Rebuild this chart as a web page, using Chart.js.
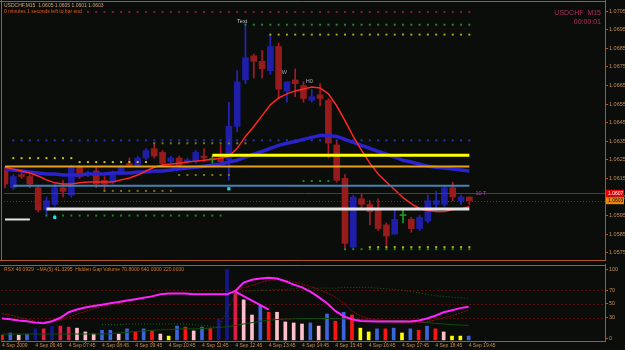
<!DOCTYPE html>
<html lang="en">
<head>
<meta charset="UTF-8">
<title>USDCHF M15</title>
<style>
  body { margin: 0; background: #0a0d09; }
  .wrap { position: relative; width: 625px; height: 350px; background: #0a0d09; overflow: hidden; }
  canvas { position: absolute; left: 0; }
  #main { top: 0; }
  #sub { top: 264px; }
</style>
</head>
<body>
<div class="wrap">
  <canvas id="main" width="625" height="264"></canvas>
  <canvas id="sub" width="625" height="86"></canvas>
</div>
<script src="https://cdn.jsdelivr.net/npm/chart.js"></script>
<script>
// USDCHF M15, bar 0 = 4 Sep 05:45
const opens = [1.0619,1.0610,1.0617,1.0616,1.0610,1.0598,1.0601,1.0610,1.0606,1.0621,
  1.0617,1.0619,1.0614,1.0613,1.0618,1.0623,1.0622,1.0626,1.0631,1.0629,
  1.0624,1.0626,1.0624,1.0624,1.0627,1.0625,1.0626,1.0625,1.0643,1.0668,
  1.0681,1.0678,1.0673,1.0686,1.0662,1.0668,1.0665,1.0657,1.0660,1.0657,
  1.0633,1.0615,1.0578,1.0604,1.0601,1.0598,1.0590,1.0585,1.0595,1.0593,
  1.0588,1.0592,1.0601,1.0601,1.0610,1.0603,1.0605];
const highs = [1.0621,1.0617,1.0618,1.0617,1.0611,1.0605,1.0612,1.0614,1.0622,1.0622,
  1.0619,1.0621,1.0616,1.0619,1.0622,1.0626,1.0627,1.0631,1.0634,1.0630,
  1.0627,1.0627,1.0626,1.0630,1.0631,1.0627,1.0633,1.0656,1.0673,1.0699,
  1.0682,1.0684,1.0692,1.0688,1.0667,1.0674,1.0667,1.0663,1.0666,1.0658,
  1.0635,1.0617,1.0606,1.0607,1.0603,1.0604,1.0591,1.0598,1.0598,1.0594,
  1.0595,1.0606,1.0608,1.0611,1.0613,1.0606,1.0605];
const lows = [1.0610,1.0609,1.0615,1.0610,1.0597,1.0595,1.0600,1.0605,1.0605,1.0615,
  1.0616,1.0610,1.0608,1.0612,1.0617,1.0621,1.0621,1.0625,1.0626,1.0622,
  1.0623,1.0621,1.0623,1.0623,1.0624,1.0622,1.0623,1.0614,1.0640,1.0666,
  1.0669,1.0669,1.0671,1.0658,1.0656,1.0659,1.0656,1.0656,1.0654,1.0626,
  1.0613,1.0577,1.0577,1.0599,1.0590,1.0587,1.0578,1.0585,1.0591,1.0586,
  1.0587,1.0591,1.0597,1.0600,1.0603,1.0601,1.0601];
const closes = [1.0612,1.0616,1.0616,1.0612,1.0598,1.0603,1.0610,1.0608,1.0621,1.0616,
  1.0618,1.0612,1.0612,1.0617,1.0621,1.0622,1.0626,1.0630,1.0627,1.0623,
  1.0626,1.0622,1.0625,1.0629,1.0626,1.0625,1.0624,1.0643,1.0667,1.0680,
  1.0678,1.0674,1.0686,1.0663,1.0667,1.0666,1.0658,1.0659,1.0658,1.0634,
  1.0614,1.0580,1.0605,1.0601,1.0597,1.0588,1.0584,1.0593,1.0595,1.0588,
  1.0594,1.0603,1.0603,1.0610,1.0605,1.0605,1.0603];

const redMA = [1.06210,1.06200,1.06190,1.06179,1.06163,1.06142,1.06126,1.06120,1.06120,1.06126,
  1.06131,1.06131,1.06131,1.06131,1.06142,1.06152,1.06168,1.06190,1.06210,1.06222,
  1.06227,1.06232,1.06238,1.06243,1.06248,1.06253,1.06259,1.06269,1.06312,1.06376,
  1.06429,1.06488,1.06546,1.06583,1.06605,1.06621,1.06631,1.06642,1.06637,1.06605,
  1.06541,1.06461,1.06376,1.06301,1.06232,1.06174,1.06131,1.06089,1.06046,1.06014,
  1.05987,1.05977,1.05972,1.05972,1.05982,1.05987,1.05998];
const blueMA = [1.06200,1.06195,1.06190,1.06184,1.06179,1.06174,1.06174,1.06168,1.06168,1.06168,
  1.06174,1.06174,1.06174,1.06179,1.06179,1.06179,1.06184,1.06184,1.06190,1.06190,
  1.06195,1.06200,1.06206,1.06210,1.06216,1.06222,1.06227,1.06238,1.06248,1.06264,
  1.06280,1.06296,1.06312,1.06328,1.06339,1.06349,1.06360,1.06371,1.06381,1.06381,
  1.06376,1.06360,1.06344,1.06328,1.06312,1.06296,1.06280,1.06264,1.06248,1.06238,
  1.06227,1.06216,1.06210,1.06206,1.06200,1.06195,1.06190];

// horizontal objects: price, first bar, last bar
const levelPrice = [1.06275, 1.06214, 1.06110, 1.05985, 1.05929];
const levelFrom = [25, 0, 1, 5, 0];
const levelTo = [56, 56, 56, 56, 3];

// dotted indicator rows
const dotPrice = [1.07046, 1.06977, 1.06924, 1.06355, 1.06339, 1.06259, 1.06238, 1.06168, 1.06083, 1.06136, 1.05950, 1.05780, 1.05769];
const dotFrom = [10, 29, 32, 1, 18, 1, 9, 21, 12, 36, 5, 44, 41];
const dotTo = [56, 56, 56, 56, 29, 8, 17, 27, 20, 39, 26, 56, 56];
const signalBars = [6, 27];
const signalPrice = [1.05940, 1.06094];

const noteText = ['Text', 'W', 'H0', '10 T'];
const noteBar = [28.6, 33.7, 36.7, 57.4];
const notePrice = [1.06994, 1.06722, 1.06674, 1.06067];

const priceLines = [1.0607, 1.0603];
const priceTicks = [1.0575, 1.0585, 1.0595, 1.0605, 1.0615, 1.0625, 1.0635, 1.0645, 1.0655, 1.0665, 1.0675, 1.0685, 1.0695, 1.0705];

// sub window
const rsx = [29,28,26,25,23,22,25,30,38,42, 45,47,49,51,53,55,57,59,61,64,
  65,65,65,64,64,64,64,64,69,81, 85,87,88,87,83,78,74,68,60,51,
  40,32,28,25.5,25,24.5,24.5,24.5,24.5,24.5, 26,29,33,38,41,44,46.09];
const rsxMA = [36,34,31,28,25,24,25,26,31,35.5, 39,43,46,48.5,51,54,56,59,62,64,
  65,65,65,65,65,65,65,65,68,74, 77,81,84,85.5,84.5,82,79,75.5,71,66,
  60,51,40,33,29,27,25,24,23.5,23, 23,24,27,30,33,37,41.33];
const gapUpper = [null,null,null,null,null,null,null,null,null,null,null,null,
  20,20,20,21,21,21,21,21,21,21,21,20,19,18,
  16,40,65,68,69,70,70,71,71,72, 72,73,73,73,73,74,74,74,74,73,
  72,71,70,68,66,64,62,61,60,59,58];
const gapLower = [6.5,6.5,6.5,6.5,6.5,6.5,6.5,6.5,6.5,6.5,6.5,6.5,6.5,
  7,8,9,10,11,12,12.5,13,13.5,14, 14,14.5,15,16,17,19,21,23,25,26.5,
  27.5,28,28.5,29,29,29,29,29,28.5,28, 27.5,27,26.5,26,26,26,25,24,23,22, 21,20,19.5,19];
const volume = [5,8,5,6.5,14,14,18,18,16.5,15, 9.5,6.5,12,12,6.5,14,9.5,14,11,6.5,
  3.5,18,16.5,11,16.5,15,28,100,66,56, 34,48.5,38,38,24,22.5,21,22.5,18,35.5,
  25,38,34,15,9.5,14,14,15,8,14, 12,18,14,9.5,3.5,3.5,3.5];
const volKind = ['R','B','P','B','N','C','N','C','C','P', 'P','P','B','B','P','B','R','B','R','P',
  'Y','B','R','P','B','R','N','N','C','P', 'P','B','R','P','P','P','P','B','P','B',
  'R','B','R','Y','Y','B','R','B','Y','B', 'R','B','R','P','Y','Y','B'];
const divBars = [28, 32];
const divValues = [68, 42];
const rsxLevels = [30, 50, 70];
const rsxTicks = [0, 30, 50, 70, 100];
const timeTicks = [0, 4, 8, 12, 16, 20, 24, 28, 32, 36, 40, 44, 48, 52, 56];
const timeLabels = ['4 Sep 2009', '4 Sep 06:45', '4 Sep 07:45', '4 Sep 08:45', '4 Sep 09:45', '4 Sep 10:45',
  '4 Sep 11:45', '4 Sep 12:45', '4 Sep 13:45', '4 Sep 14:45', '4 Sep 15:45', '4 Sep 16:45',
  '4 Sep 17:45', '4 Sep 18:45', '4 Sep 19:45'];

// styles
const FONT = '"Liberation Sans", Arial, sans-serif';
Chart.defaults.font.family = FONT;
const FRAME = '#b0561a';
const AXIS_TXT = '#c98c55';
const X_MIN = -0.12, X_MAX = 72.36;
const levelColors = ['#ffff00', '#e8a01c', '#4682b4', '#e4e4e4', '#e4e4e4'];
const levelWidths = [3, 2, 2, 3, 2];
const dotColors = ['#8e1846', '#238a23', '#a8a81c', '#2436b8', '#7a7a1a', '#c8c81e', '#c8c81e',
  '#7a7a1a', '#7a7a1a', '#1f8a1f', '#1c8a1c', '#b8b81e', '#1c8a1c'];
const noteColors = ['#c8c8c8', '#a8a8a8', '#b0b0b0', '#b040b0'];
const boxColors = ['#e60000', '#e8860e'];
const boxText = ['#ffffff', '#1a0a00'];
const volColors = { R: '#ff1414', B: '#3c64dc', P: '#ffc0cb', N: '#16168c', C: '#dc1e46', Y: '#ffff00' };

const idx = opens.map((_, i) => i);
const series = arr => idx.map(i => ({ x: i, y: arr[i] }));
const bodyColor = i => closes[i] > opens[i] ? '#1e1ea8' : closes[i] < opens[i] ? '#961b1b' : '#1c9c1c';
const wickColor = i => closes[i] > opens[i] ? '#2626b8' : closes[i] < opens[i] ? '#a8182c' : '#1c9c1c';

const fitY = s => { s.width = 20; s.paddingTop = 0; s.paddingBottom = 0; };

// ---------- main window ----------
const mainSets = [
  { type: 'bar', data: idx.map(i => ({ x: i, y: [lows[i], highs[i]] })), backgroundColor: idx.map(wickColor),
    barThickness: 1, grouped: false, order: 9 },
  { type: 'bar', data: idx.map(i => ({ x: i, y: [opens[i], closes[i]] })), backgroundColor: idx.map(bodyColor),
    barThickness: 6, minBarLength: 1, grouped: false, order: 8 },
  { type: 'line', data: series(blueMA), borderColor: '#2a22cc', borderWidth: 3.5, pointRadius: 0, order: 6 },
  { type: 'line', data: series(redMA), borderColor: '#ff2626', borderWidth: 1.5, pointRadius: 0, order: 5 }
];
dotPrice.forEach((p, k) => {
  const pts = [];
  for (let i = dotFrom[k]; i <= dotTo[k]; i++) pts.push({ x: i, y: p });
  mainSets.push({ type: 'scatter', data: pts, pointStyle: 'rect', pointRadius: 1.4,
    backgroundColor: dotColors[k], borderWidth: 0, order: 7 });
});
levelPrice.forEach((p, k) => {
  mainSets.push({ type: 'line', data: [{ x: levelFrom[k], y: p }, { x: levelTo[k], y: p }],
    borderColor: levelColors[k], borderWidth: levelWidths[k], pointRadius: 0, order: 3 });
});
mainSets.push({ type: 'scatter', data: signalBars.map((b, k) => ({ x: b, y: signalPrice[k] })),
  pointStyle: 'rect', pointRadius: 2.2, backgroundColor: '#22e6e6', borderWidth: 0, order: 2 });

const mainDecor = {
  id: 'mainDecor',
  afterDatasetsDraw(chart) {
    const { ctx, chartArea: a, scales: { x, y } } = chart;
    ctx.save();
    ctx.lineWidth = 1;
    let py = Math.round(y.getPixelForValue(priceLines[0])) + 0.5;
    ctx.strokeStyle = '#b31212';
    ctx.beginPath(); ctx.moveTo(a.left, py); ctx.lineTo(a.right, py); ctx.stroke();
    py = Math.round(y.getPixelForValue(priceLines[1])) + 0.5;
    ctx.strokeStyle = '#3c3c3c';
    ctx.setLineDash([1, 2]);
    ctx.beginPath(); ctx.moveTo(a.left, py); ctx.lineTo(a.right, py); ctx.stroke();
    ctx.setLineDash([]);

    ctx.font = '5.5px ' + FONT;
    ctx.textAlign = 'center';
    ctx.textBaseline = 'middle';
    noteText.forEach((t, k) => {
      ctx.fillStyle = noteColors[k];
      ctx.fillText(t, x.getPixelForValue(noteBar[k]), y.getPixelForValue(notePrice[k]));
    });
    ctx.restore();
  },
  afterDraw(chart) {
    const { ctx, chartArea: a, scales: { y } } = chart;
    ctx.save();
    ctx.strokeStyle = FRAME;
    ctx.lineWidth = 1;
    ctx.beginPath();
    ctx.moveTo(0, 1.5); ctx.lineTo(a.right, 1.5);
    ctx.moveTo(1.5, 0); ctx.lineTo(1.5, a.bottom);
    ctx.moveTo(0, a.bottom + 0.5); ctx.lineTo(a.right, a.bottom + 0.5);
    ctx.moveTo(a.right + 0.5, 0); ctx.lineTo(a.right + 0.5, a.bottom + 1);
    ctx.stroke();

    const last = opens.length - 1;
    ctx.textBaseline = 'middle';
    ctx.textAlign = 'left';
    ctx.font = '5px ' + FONT;
    ctx.fillStyle = '#d2a47c';
    ctx.fillText('USDCHF,M15  ' + [opens[last], highs[last], lows[last], closes[last]].map(v => v.toFixed(4)).join(' '), 4, 5.5);
    ctx.fillStyle = '#e85a1c';
    ctx.fillText('0 minutes 1 seconds left to bar end', 4, 11.5);

    ctx.textAlign = 'right';
    ctx.font = '7px ' + FONT;
    ctx.fillStyle = '#a8325e';
    ctx.fillText('USDCHF  M15', 601, 13.5);
    ctx.fillText('00:00:01', 601, 22);

    ctx.textAlign = 'left';
    ctx.font = '5px ' + FONT;
    priceLines.forEach((p, k) => {
      const py = y.getPixelForValue(p);
      ctx.fillStyle = boxColors[k];
      ctx.fillRect(a.right + 1, py - 3.5, 18, 7);
      ctx.fillStyle = boxText[k];
      ctx.fillText(p.toFixed(4), a.right + 3, py);
    });
    ctx.restore();
  }
};

new Chart(document.getElementById('main'), {
  type: 'bar',
  data: { datasets: mainSets },
  options: {
    responsive: false,
    animation: false,
    events: [],
    layout: { padding: { left: 1, top: 4, right: 0, bottom: 1 } },
    plugins: { legend: { display: false }, tooltip: { enabled: false } },
    scales: {
      x: { type: 'linear', min: X_MIN, max: X_MAX, offset: false, display: false },
      y: {
        position: 'right',
        min: 1.0571084,
        max: 1.0708872,
        afterFit: fitY,
        afterBuildTicks: s => { s.ticks = priceTicks.map(v => ({ value: v })); },
        ticks: { autoSkip: false, padding: 1, color: AXIS_TXT, font: { size: 5.5 }, callback: v => v.toFixed(4) },
        grid: { drawOnChartArea: false, tickLength: 3, color: FRAME },
        border: { color: FRAME }
      }
    }
  },
  plugins: [mainDecor]
});

// ---------- RSX / volume window ----------
const subSets = [
  { type: 'bar', data: series(volume), backgroundColor: volKind.map(k => volColors[k]),
    barThickness: 3, base: -2, grouped: false, order: 6 },
  { type: 'line', data: series(gapLower), borderColor: '#0c4e0c', borderWidth: 1, pointRadius: 0, order: 5 },
  { type: 'line', data: series(gapUpper), borderColor: '#0e6a0e', borderWidth: 1, borderDash: [1, 2], pointRadius: 0, order: 4 },
  { type: 'line', data: series(rsxMA), borderColor: '#8e0c0c', borderWidth: 1, borderDash: [2, 1], pointRadius: 0, order: 3 },
  { type: 'line', data: series(rsx), borderColor: '#ff22ff', borderWidth: 2, pointRadius: 0, order: 2 },
  { type: 'line', data: divBars.map((b, k) => ({ x: b, y: divValues[k] })), borderColor: '#ff22ff', borderWidth: 2, pointRadius: 0, order: 1 }
];

const subDecor = {
  id: 'subDecor',
  beforeDatasetsDraw(chart) {
    const { ctx, chartArea: a, scales: { y } } = chart;
    ctx.save();
    ctx.strokeStyle = '#5e0c0c';
    ctx.lineWidth = 1;
    ctx.setLineDash([2, 2]);
    rsxLevels.forEach(v => {
      const py = Math.round(y.getPixelForValue(v)) + 0.5;
      ctx.beginPath(); ctx.moveTo(a.left, py); ctx.lineTo(a.right, py); ctx.stroke();
    });
    ctx.restore();
  },
  afterDraw(chart) {
    const { ctx, chartArea: a } = chart;
    ctx.save();
    ctx.strokeStyle = FRAME;
    ctx.lineWidth = 1;
    ctx.beginPath();
    ctx.moveTo(0, 1.5); ctx.lineTo(a.right, 1.5);
    ctx.moveTo(a.right + 0.5, 0); ctx.lineTo(a.right + 0.5, a.top);
    ctx.stroke();
    ctx.font = '5px ' + FONT;
    ctx.textAlign = 'left';
    ctx.textBaseline = 'middle';
    ctx.fillStyle = '#d2782a';
    ctx.fillText('RSX 46.0929  ~MA(5) 41.3295  Hidden Gap Volume 70.8000 640.0000 220.0000', 4, 6);
    ctx.restore();
  }
};

new Chart(document.getElementById('sub'), {
  type: 'bar',
  data: { datasets: subSets },
  options: {
    responsive: false,
    animation: false,
    events: [],
    layout: { padding: { left: 1, top: 2, right: 0, bottom: 0 } },
    plugins: { legend: { display: false }, tooltip: { enabled: false } },
    scales: {
      x: {
        type: 'linear', min: X_MIN, max: X_MAX, offset: false,
        afterFit: s => { s.height = 9; s.paddingLeft = 0; s.paddingRight = 0; },
        afterBuildTicks: s => { s.ticks = timeTicks.map(v => ({ value: v })); },
        ticks: { autoSkip: false, maxRotation: 0, align: 'start', padding: 0, color: AXIS_TXT,
          font: { size: 5 }, callback: (v, i) => timeLabels[i] },
        grid: { drawOnChartArea: false, tickLength: 2, color: FRAME },
        border: { color: FRAME }
      },
      y: {
        position: 'right',
        min: -3.6,
        max: 105,
        afterFit: fitY,
        afterBuildTicks: s => { s.ticks = rsxTicks.map(v => ({ value: v })); },
        ticks: { autoSkip: false, padding: 1, color: AXIS_TXT, font: { size: 5.5 } },
        grid: { drawOnChartArea: false, tickLength: 3, color: FRAME },
        border: { color: FRAME }
      }
    }
  },
  plugins: [subDecor]
});
</script>
</body>
</html>
